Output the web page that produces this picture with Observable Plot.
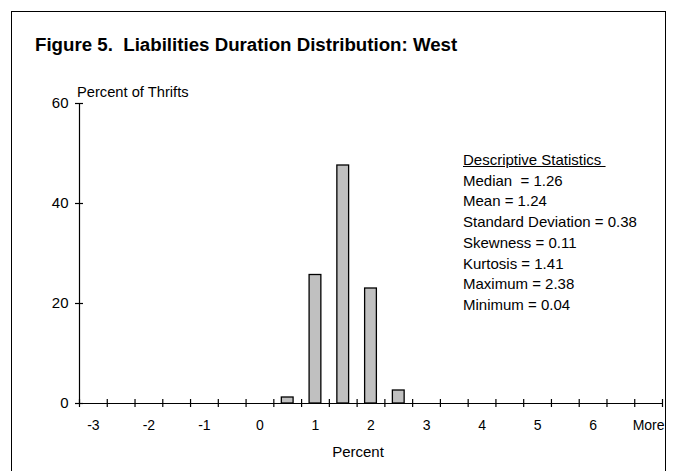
<!DOCTYPE html>
<html>
<head>
<meta charset="utf-8">
<script src="https://cdn.jsdelivr.net/npm/d3@7"></script>
<script src="https://cdn.jsdelivr.net/npm/@observablehq/plot@0.6"></script>
<style>
  html, body { margin: 0; padding: 0; background: #fff; overflow: hidden; }
  #wrap { position: relative; width: 675px; height: 471px; overflow: hidden;
          font-family: "Liberation Sans", Arial, sans-serif; color: #000; }
  #frame { position: absolute; left: 11px; top: 11px; width: 655px; height: 500px;
           border: 1.5px solid #000; box-sizing: border-box; }
  #chart { position: absolute; left: 0; top: 0; }
  .t { position: absolute; white-space: pre; }
  #title { left: 35px; top: 33px; line-height: 24px; font-size: 18.7px; font-weight: bold; }
  #ylab { left: 77px; top: 82px; line-height: 20px; font-size: 14.7px; }
  #xlab { left: 358px; top: 442px; line-height: 20px; font-size: 15px; transform: translateX(-50%); }
  #stats { left: 463px; top: 150px; font-size: 15px; line-height: 20.7px; }
  #stats .h { text-decoration: underline; }
</style>
</head>
<body>
<div id="wrap">
  <div id="frame"></div>
  <div id="chart"></div>
  <div class="t" id="title"></div>
  <div class="t" id="ylab"></div>
  <div class="t" id="xlab"></div>
  <div class="t" id="stats"></div>
</div>
<script>
// ---- data ----
const titleText = "Figure 5.  Liabilities Duration Distribution: West";
const yAxisTitle = "Percent of Thrifts";
const xAxisTitle = "Percent";
const categories = ["-3","-2.5","-2","-1.5","-1","-0.5","0","0.5","1","1.5","2","2.5","3","3.5","4","4.5","5","5.5","6","6.5","More"];
const percents   = [0, 0, 0, 0, 0, 0, 0, 1.2, 25.7, 47.6, 23.0, 2.6, 0, 0, 0, 0, 0, 0, 0, 0, 0];
const xTickLabels = ["-3","-2","-1","0","1","2","3","4","5","6","More"];
const yTicks = [0, 20, 40, 60];
const statsHeader = "Descriptive Statistics";
const statsLines = [
  "Median  = 1.26",
  "Mean = 1.24",
  "Standard Deviation = 0.38",
  "Skewness = 0.11",
  "Kurtosis = 1.41",
  "Maximum = 2.38",
  "Minimum = 0.04"
];

// ---- build table ----
const data = categories.map((c, i) => ({cat: c, idx: i, pct: percents[i]}));
const boundaries = d3.range(categories.length + 1);
const fontFamily = '"Liberation Sans", Arial, sans-serif';

const chart = Plot.plot({
  width: 675,
  height: 471,
  marginLeft: 79,
  marginRight: 13,
  marginTop: 103,
  marginBottom: 68,
  style: {fontFamily, fontSize: "15px", color: "#000", background: "transparent"},
  x: {type: "linear", domain: [0, categories.length], axis: null},
  y: {domain: [0, 60], axis: null},
  marks: [
    Plot.rectY(data, {
      filter: d => d.pct > 0,
      x1: "idx", x2: d => d.idx + 1, y1: 0, y2: "pct",
      insetLeft: 8, insetRight: 8,
      fill: "#c0c0c0", stroke: "#000", strokeWidth: 1.3
    }),
    // x axis line
    Plot.ruleY([0], {stroke: "#000", strokeWidth: 1.2}),
    // y axis line
    Plot.ruleX([0], {y1: 0, y2: 60, stroke: "#000", strokeWidth: 1.2}),
    // x tick marks at category boundaries (cross the axis)
    Plot.ruleX(boundaries, {x: d => d, y1: 0, y2: 0, insetTop: -4, insetBottom: -4, stroke: "#000", strokeWidth: 1.2}),
    // y tick marks (cross the axis)
    Plot.ruleY(yTicks, {y: d => d, x1: 0, x2: 0, insetLeft: -4, insetRight: -4, stroke: "#000", strokeWidth: 1.2}),
    // x tick labels
    Plot.text(xTickLabels, {
      x: d => categories.indexOf(d) + 0.5, y: 0, text: d => d,
      dy: 22, fontSize: 14, fill: "#000"
    }),
    // y tick labels
    Plot.text(yTicks, {
      x: 0, y: d => d, text: d => String(d),
      dx: -11, textAnchor: "end", fontSize: 15, fill: "#000"
    })
  ]
});
document.getElementById("chart").appendChild(chart);

document.getElementById("title").textContent = titleText;
document.getElementById("ylab").textContent = yAxisTitle;
document.getElementById("xlab").textContent = xAxisTitle;
const st = document.getElementById("stats");
const h = document.createElement("div");
h.className = "h";
h.textContent = statsHeader + "\u00a0";
st.appendChild(h);
for (const line of statsLines) {
  const dv = document.createElement("div");
  dv.textContent = line;
  st.appendChild(dv);
}
</script>
</body>
</html>
